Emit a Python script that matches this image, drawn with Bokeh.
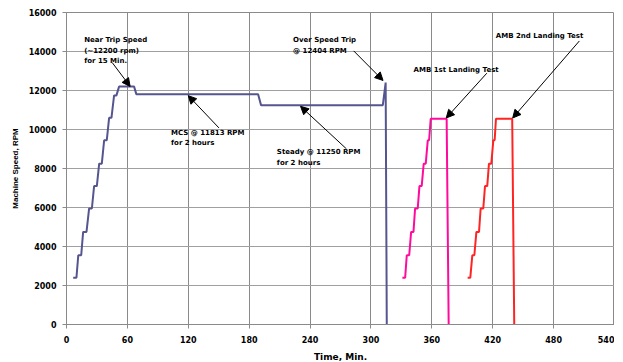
from bokeh.plotting import figure
from bokeh.models import Label, Arrow, NormalHead, FixedTicker, Range1d
from bokeh.embed import file_html
from bokeh.resources import INLINE

# ---- data ----
blue_t = [6.6, 9.8, 11.6, 14.5, 16.4, 19.7, 22.3, 25.0, 27.2, 29.9, 32.2, 34.8, 37.1, 39.7,
          42.0, 44.3, 46.9, 49.2, 51.8, 66.6, 68.8, 188.8, 191.7, 311.7, 314.5, 315.6]
blue_rpm = [2400, 2400, 3550, 3550, 4750, 4750, 5950, 5950, 7100, 7100, 8250, 8250, 9450, 9450,
            10600, 10600, 11750, 11750, 12200, 12200, 11813, 11813, 11250, 11250, 12404, 0]

mag_t = [331.0, 333.7, 335.3, 337.7, 339.6, 341.9, 343.5, 346.1, 347.8, 350.0, 352.0, 354.0,
         356.0, 357.3, 358.9, 374.6, 376.6]
mag_rpm = [2400, 2400, 3550, 3550, 4750, 4750, 5950, 5950, 7100, 7100, 8250, 8250,
           9450, 9450, 10550, 10550, 0]

red_t = [395.3, 397.9, 399.9, 401.9, 403.9, 406.5, 408.1, 410.7, 412.4, 414.6, 416.3, 418.6,
         420.6, 421.9, 423.2, 439.2, 441.2]
red_rpm = [2400, 2400, 3550, 3550, 4750, 4750, 5950, 5950, 7100, 7100, 8250, 8250,
           9450, 9450, 10550, 10550, 0]

x_ticks = [0, 60, 120, 180, 240, 300, 360, 420, 480, 540]
y_ticks = [0, 2000, 4000, 6000, 8000, 10000, 12000, 14000, 16000]

notes = [
    ("Near Trip Speed\n(~12200 rpm)\nfor 15 Min.", 17.4, 14800),
    ("MCS @ 11813 RPM\nfor 2 hours", 103.0, 10050),
    ("Steady @ 11250 RPM\nfor 2 hours", 207.3, 9050),
    ("Over Speed Trip\n@ 12404 RPM", 223.3, 14790),
    ("AMB 1st Landing Test", 342.0, 13260),
    ("AMB 2nd Landing Test", 423.0, 14990),
]
arrows = [
    (45.0, 13434, 62.7, 12210),
    (150.2, 10082, 120.0, 11735),
    (275.8, 9010, 230.6, 11189),
    (283.0, 14031, 311.9, 12515),
    (414.2, 12888, 374.2, 10592),
    (505.4, 14541, 439.7, 10592),
]

FONT = "DejaVu Sans"

p = figure(frame_width=548, frame_height=312, output_backend="svg", toolbar_location=None,
           x_range=Range1d(0, 540), y_range=Range1d(0, 16000),
           min_border_left=66, min_border_top=12, min_border_right=0, min_border_bottom=28)
p.background_fill_color = "white"
p.outline_line_color = "#8a8a8a"
p.outline_line_width = 1

p.line(blue_t, blue_rpm, line_color="#55558f", line_width=2)
p.line(mag_t, mag_rpm, line_color="#ff0a9c", line_width=2)
p.line(red_t, red_rpm, line_color="#ff2424", line_width=2)

for ax in (p.xaxis[0], p.yaxis[0]):
    ax.axis_line_color = "#8a8a8a"
    ax.major_tick_line_color = "#8a8a8a"
    ax.minor_tick_line_color = None
    ax.major_tick_out = 4
    ax.major_tick_in = 0
    ax.major_label_text_font = FONT
    ax.major_label_text_font_style = "bold"
    ax.major_label_text_font_size = "8px"
    ax.major_label_text_color = "black"
    ax.axis_label_text_font_style = "bold"
    ax.axis_label_text_color = "black"

p.xaxis.ticker = FixedTicker(ticks=x_ticks)
p.yaxis.ticker = FixedTicker(ticks=y_ticks)
p.xaxis.major_label_standoff = 7
p.yaxis.major_label_standoff = 6
p.xaxis.axis_label = "Time, Min."
p.xaxis.axis_label_text_font = FONT
p.xaxis.axis_label_text_font_size = "9px"
p.xaxis.axis_label_standoff = 6
p.yaxis.axis_label = "Machine Speed, RPM"
p.yaxis.axis_label_text_font = "Liberation Sans"
p.yaxis.axis_label_text_font_size = "8px"
p.yaxis.axis_label_standoff = 6

p.xgrid.ticker = FixedTicker(ticks=x_ticks)
p.ygrid.ticker = FixedTicker(ticks=y_ticks)
p.xgrid.grid_line_color = "#8a8a8a"
p.ygrid.grid_line_color = "#a0a0a0"

for txt, x, y in notes:
    p.add_layout(Label(x=x, y=y, text=txt, text_font=FONT, text_font_style="bold",
                       text_font_size="7px", text_baseline="top", text_align="left",
                       text_line_height=1.35, text_color="black"))

for x0, y0, x1, y1 in arrows:
    p.add_layout(Arrow(x_start=x0, y_start=y0, x_end=x1, y_end=y1,
                       line_color="black", line_width=1,
                       end=NormalHead(size=8, fill_color="black", line_color="black")))

open("out.html", "w").write(file_html(p, INLINE))
